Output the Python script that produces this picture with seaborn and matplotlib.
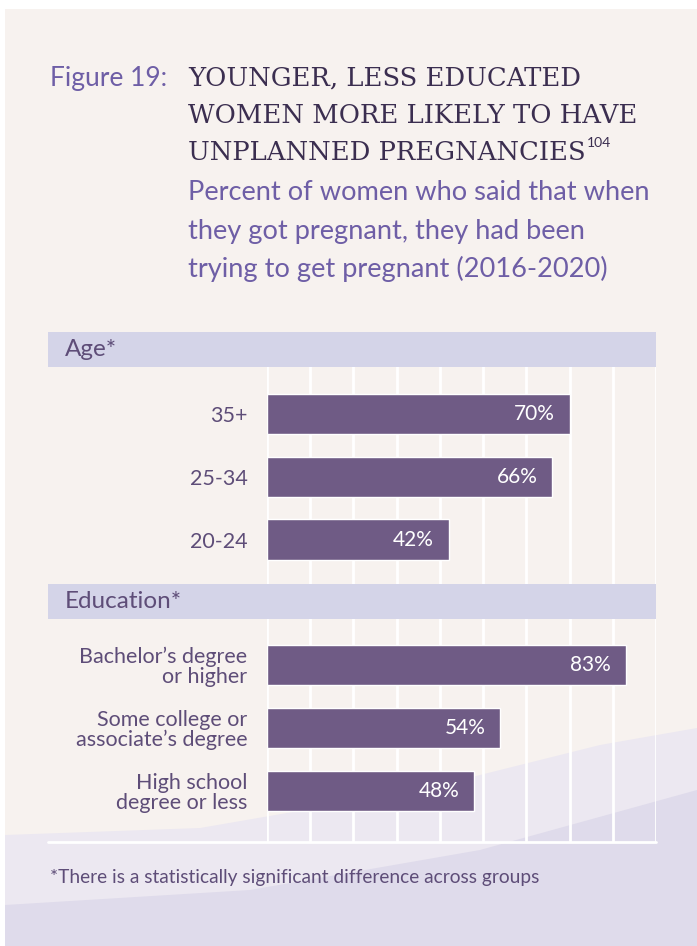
import numpy as np
import pandas as pd
import matplotlib
matplotlib.use("Agg")
import matplotlib.pyplot as plt
import matplotlib.transforms as mtransforms
import seaborn as sns
from matplotlib.patches import Rectangle, Polygon
from matplotlib.lines import Line2D

# data
sections = ["Age*", "Education*"]
age_groups = ["35+", "25-34", "20-24"]
age_values = [70, 66, 42]
edu_groups = ["Bachelor\u2019s degree\nor higher",
              "Some college or\nassociate\u2019s degree",
              "High school\ndegree or less"]
edu_values = [83, 54, 48]
grid_ticks = list(range(0, 100, 10))

fig_label = "Figure 19:"
title_lines = ["YOUNGER, LESS EDUCATED",
               "WOMEN MORE LIKELY TO HAVE",
               "UNPLANNED PREGNANCIES"]
title_ref = "104"
subtitle_lines = ["Percent of women who said that when",
                  "they got pregnant, they had been",
                  "trying to get pregnant (2016-2020)"]
footnote = "*There is a statistically significant difference across groups"

# colours
PANEL = "#f7f2ef"
BAND = "#d4d4e8"
BAR = "#6f5b85"
PURPLE = "#6e5ea6"
DARK = "#3b2e50"
LABEL = "#5e4d78"

W, H = 697, 946
sns.set_theme(style="white")
plt.rcParams["font.family"] = ["Lato", "DejaVu Sans"]

fig = plt.figure(figsize=(W / 100, H / 100), dpi=100)
fig.patch.set_facecolor("white")


def fx(px):
    return px / W


def fy(py):
    return 1 - py / H


# background panel + lavender brush area at the bottom (kept under the axes)
fig.patches.append(Rectangle((fx(5), 0), 1 - fx(5), fy(9), transform=fig.transFigure,
                             facecolor=PANEL, edgecolor="none", zorder=-3))
brush1 = [(5, 946), (5, 835), (200, 828), (420, 790), (600, 745), (697, 728), (697, 946)]
brush2 = [(5, 946), (5, 905), (250, 890), (480, 850), (697, 790), (697, 946)]
for pts, col in [(brush1, "#ece8f1"), (brush2, "#dfdbeb")]:
    fig.patches.append(Polygon([(fx(x), fy(y)) for x, y in pts], closed=True,
                               transform=fig.transFigure, facecolor=col,
                               edgecolor="none", zorder=-2))

# titles
fig.text(fx(50), fy(86), fig_label, color=PURPLE, fontsize=19, va="baseline", ha="left")
title_base = [86, 123, 160]
last = None
for line, yb in zip(title_lines, title_base):
    last = fig.text(fx(188), fy(yb), line, color=DARK, fontsize=18.6,
                    family=["DejaVu Serif"], va="baseline", ha="left")
renderer = fig.canvas.get_renderer()
bb = last.get_window_extent(renderer)
fig.text(bb.x1 / W + fx(1), fy(147), title_ref, color=DARK, fontsize=10,
         va="baseline", ha="left")
for line, yb in zip(subtitle_lines, [200, 239, 277]):
    fig.text(fx(188), fy(yb), line, color=PURPLE, fontsize=19.6, va="baseline", ha="left")

# chart
ax = fig.add_axes([fx(267), fy(842), fx(656) - fx(267), fy(332) - fy(842)])
ax.set_facecolor("none")

df = pd.DataFrame({"group": age_groups + edu_groups, "pct": age_values + edu_values})
order = [sections[0]] + age_groups + [sections[1]] + edu_groups

sns.barplot(data=df, x="pct", y="group", order=order, color=BAR, saturation=1,
            width=0.64, ax=ax, zorder=3)

for xv in grid_ticks:
    ax.axvline(xv, color="white", lw=2, zorder=1)

left_frac = (48 - 267) / (656 - 267)
trans = mtransforms.blended_transform_factory(ax.transAxes, ax.transData)
for s in sections:
    p = order.index(s)
    ax.add_patch(Rectangle((left_frac, p - 0.30), 1 - left_frac, 0.56, transform=trans,
                           facecolor=BAND, edgecolor="none", clip_on=False, zorder=4))
    ax.text((65 - 267) / (656 - 267), p - 0.02, s, transform=trans, color=LABEL,
            fontsize=17.5, va="center", ha="left", zorder=5)

ax.add_line(Line2D([left_frac, 1], [0, 0], transform=ax.transAxes, color="white",
                   lw=2, clip_on=False, zorder=4))

for g, v in zip(df["group"], df["pct"]):
    ax.text(v - 3.4, order.index(g), f"{v}%", color="white", fontsize=15,
            va="center", ha="right", zorder=5)

ax.set_yticks(range(len(order)))
ax.set_yticklabels(["" if o in sections else o for o in order], color=LABEL,
                   fontsize=15.5, ha="right", linespacing=1.0)
ax.tick_params(axis="y", length=0, pad=14)
ax.set_xticks([])
ax.set_xlabel("")
ax.set_ylabel("")
sns.despine(ax=ax, left=True, bottom=True)

ax.set_xlim(0, 90)
ax.set_ylim(7.81, -0.30)

fig.text(fx(50), fy(877), footnote, color=LABEL, fontsize=13.8, va="center", ha="left")

fig.savefig("out.png", dpi=100, facecolor=fig.get_facecolor())
